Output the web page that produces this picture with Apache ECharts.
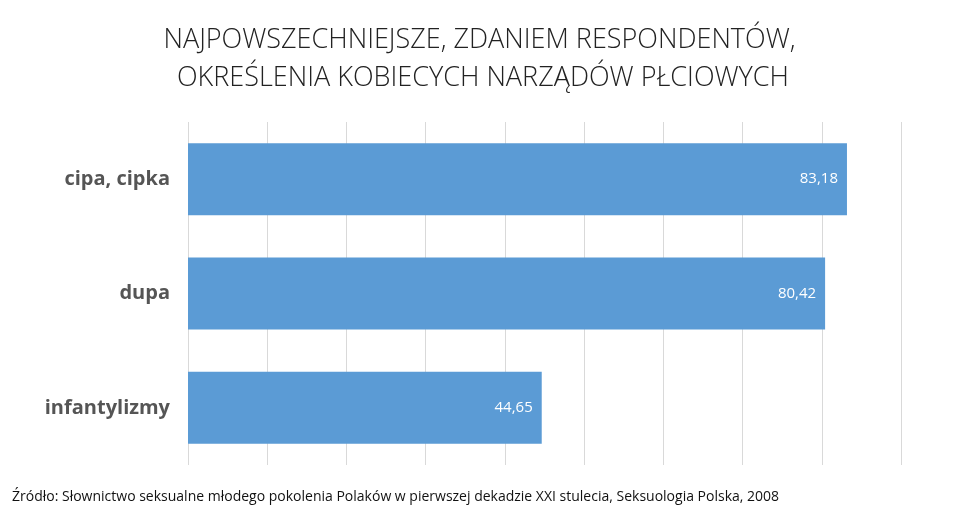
<!DOCTYPE html>
<html>
<head>
<meta charset="utf-8">
<script src="https://cdn.jsdelivr.net/npm/echarts@6/dist/echarts.min.js"></script>
<style>html,body{margin:0;padding:0;background:#fff}#main{width:959px;height:526px}</style>
</head>
<body>
<div id="main"></div>
<script>
var categories = ['cipa, cipka', 'dupa', 'infantylizmy'];
var values = [83.18, 80.42, 44.65];

var chart = echarts.init(document.getElementById('main'));
chart.setOption({
   animation: false,
   title: {
      text: 'NAJPOWSZECHNIEJSZE, ZDANIEM RESPONDENTÓW,\n OKREŚLENIA KOBIECYCH NARZĄDÓW PŁCIOWYCH',
      left: 'center',
      top: 16,
      textStyle: { fontFamily: 'Open Sans', fontWeight: 300, fontSize: 27, color: '#222', lineHeight: 38 }
   },
   graphic: [{
      type: 'text', left: 12, top: 490,
      style: { text: 'Źródło: Słownictwo seksualne młodego pokolenia Polaków w pierwszej dekadzie XXI stulecia, Seksuologia Polska, 2008',
         font: '14px "Open Sans"', fill: '#111' }
   }],
   grid: { left: 188, right: 58, top: 122, bottom: 61 },
   xAxis: {
      type: 'value', min: 0, max: 90, interval: 10,
      axisLabel: { show: false },
      axisLine: { show: false }, axisTick: { show: false },
      splitLine: { lineStyle: { color: '#d9d9d9' } }
   },
   yAxis: {
      type: 'category', inverse: true, data: categories,
      axisLine: { show: false }, axisTick: { show: false },
      axisLabel: { fontFamily: 'Open Sans', fontWeight: 'bold', fontSize: 20, color: '#555', margin: 18 }
   },
   series: [{
      type: 'bar', data: values, barWidth: 72,
      itemStyle: { color: '#5b9bd5' },
      label: {
         show: true, position: 'insideRight', offset: [-4, 0],
         formatter: function (p) { return p.value.toFixed(2).replace('.', ','); },
         color: '#fff', fontFamily: 'Open Sans', fontSize: 15
      }
   }]
});
</script>
</body>
</html>
